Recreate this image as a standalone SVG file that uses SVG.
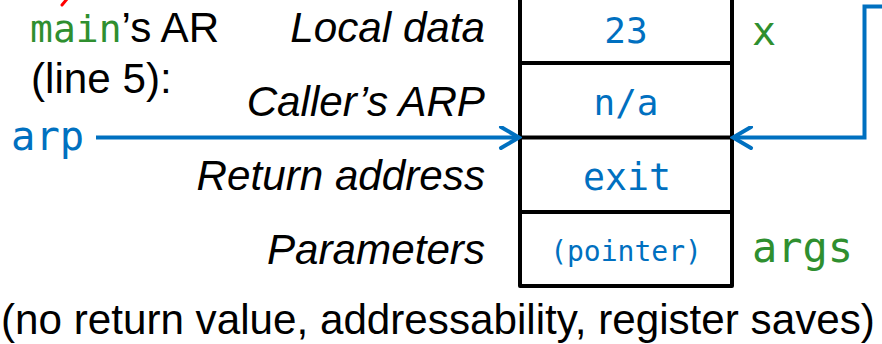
<svg xmlns="http://www.w3.org/2000/svg" width="882" height="344" viewBox="0 0 882 344">
  <defs>
    <style>
      .sans { font-family: "Liberation Sans", Arial, sans-serif; font-size: 42.2px; fill: #000; }
      .label { font-style: italic; text-anchor: end; }
      .mono { font-family: "DejaVu Sans Mono", "Liberation Mono", monospace; }
      .blue { fill: #0070C0; }
      .green { fill: #2F8F2F; }
      .cell { text-anchor: middle; }
      .frame { fill: none; stroke: #000; stroke-width: 4; stroke-linejoin: round; }
      .wire { fill: none; stroke: #0070C0; stroke-width: 4; }
    </style>
    <marker id="chevron" viewBox="0 0 24 24" markerWidth="24" markerHeight="24" refX="21" refY="12" orient="auto" markerUnits="userSpaceOnUse">
      <path d="M3,1.5 L21,12 L3,22.5" fill="none" stroke="#0070C0" stroke-width="4" stroke-linecap="round" stroke-linejoin="miter"/>
    </marker>
  </defs>

  <rect width="882" height="344" fill="#fff"/>

  <!-- fragment of red annotation above the frame -->
  <line x1="62" y1="5" x2="67" y2="-1" stroke="#FF0000" stroke-width="3" stroke-linecap="round"/>

  <!-- heading on the left -->
  <g id="heading">
    <text x="30" y="42" class="sans"><tspan class="mono green" font-size="38">main</tspan>’s AR</text>
    <text x="31" y="93" class="sans">(line 5):</text>
  </g>

  <g id="arp">
    <text x="11" y="150" class="mono blue" font-size="40.5">arp</text>
  </g>

  <!-- row labels -->
  <g id="labels">
    <text x="485" y="42" class="sans label">Local data</text>
    <text x="485" y="116" class="sans label">Caller’s ARP</text>
    <text x="485" y="190" class="sans label">Return address</text>
    <text x="485" y="264" class="sans label">Parameters</text>
  </g>

  <!-- activation record -->
  <g id="record">
    <rect x="520" y="-12" width="212" height="298" class="frame"/>
    <line x1="520" y1="63" x2="732" y2="63" stroke="#000" stroke-width="4"/>
    <line x1="520" y1="137.5" x2="732" y2="137.5" stroke="#000" stroke-width="4"/>
    <line x1="520" y1="212" x2="732" y2="212" stroke="#000" stroke-width="4"/>
    <text x="626" y="43" class="mono blue cell" font-size="36">23</text>
    <text x="626" y="115" class="mono blue cell" font-size="36">n/a</text>
    <text x="627" y="190" class="mono blue cell" font-size="36.5">exit</text>
    <text x="626" y="261" class="mono blue cell" font-size="28">(pointer)</text>
  </g>

  <!-- variable names -->
  <g id="var-x">
    <text x="752" y="45" class="mono green" font-size="40">x</text>
  </g>
  <g id="var-args">
    <text x="752" y="262" class="mono green" font-size="42">args</text>
  </g>

  <!-- connectors -->
  <g id="connectors">
    <path d="M96,137.5 H519" class="wire" marker-end="url(#chevron)"/>
    <path d="M886,6.5 H864.5 V137.5 H733" class="wire" marker-end="url(#chevron)"/>
  </g>

  <g id="footnote">
    <text x="1" y="334" class="sans">(no return value, addressability, register saves)</text>
  </g>
</svg>
